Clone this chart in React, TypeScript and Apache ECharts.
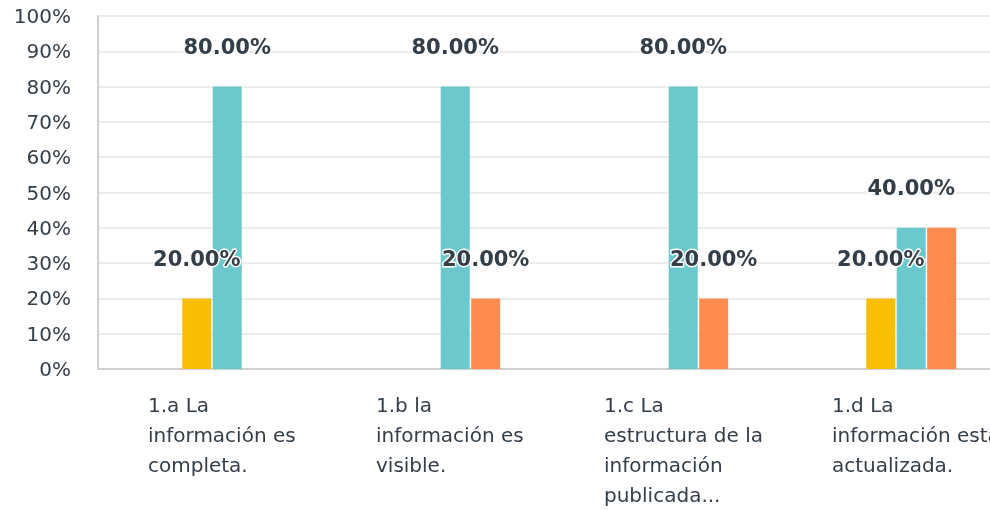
import React, { useEffect, useRef } from "react";
import * as echarts from "echarts";

const categories = [
  "1.a La\ninformación es\ncompleta.",
  "1.b la\ninformación es\nvisible.",
  "1.c La\nestructura de la\ninformación\npublicada...",
  "1.d La\ninformación está\nactualizada.",
];
const yTicks = [0, 10, 20, 30, 40, 50, 60, 70, 80, 90, 100];
const seriesNames = ["Opción 1", "Opción 2", "Opción 3", "Opción 4"];
const seriesColors = ["#A7C4E5", "#F9BE00", "#6BC8CD", "#FF8B4F"];
const s0 = [0, 0, 0, 0];
const s1 = [20, 0, 0, 20];
const s2 = [80, 80, 80, 40];
const s3 = [0, 20, 20, 40];
const seriesValues = [s0, s1, s2, s3];

const TEXT = "#333e48";
const FONT = "'DejaVu Sans', 'Noto Sans', sans-serif";

export default function App() {
  const ref = useRef<HTMLDivElement>(null);
  useEffect(() => {
    if (!ref.current) return;
    const chart = echarts.init(ref.current, undefined, { renderer: "svg" });
    chart.setOption({
      animation: false,
      textStyle: { fontFamily: FONT },
      grid: { left: 98, right: 20, top: 16, bottom: 141, containLabel: false },
      xAxis: {
        type: "category",
        data: categories,
        axisLine: { lineStyle: { color: "#d0d0d0", width: 2 } },
        axisTick: { show: false },
        axisLabel: {
          interval: 0,
          margin: 21,
          align: "center",
          verticalAlign: "top",
          formatter: (v: string) =>
            v.split("\n").map((l) => "{a|" + l + "}").join("\n"),
          rich: {
            a: {
              width: 128,
              align: "left",
              fontSize: 20,
              lineHeight: 30,
              color: TEXT,
              fontFamily: FONT,
            },
          },
        },
      },
      yAxis: {
        type: "value",
        min: yTicks[0],
        max: yTicks[yTicks.length - 1],
        interval: 10,
        axisLine: { show: true, lineStyle: { color: "#d0d0d0", width: 2 } },
        axisTick: { show: false },
        splitLine: { lineStyle: { color: "#ececec", width: 2 } },
        axisLabel: {
          formatter: "{value}%",
          fontSize: 20,
          color: TEXT,
          margin: 27,
          fontFamily: FONT,
        },
      },
      series: seriesValues.map((vals, i) => ({
        name: seriesNames[i],
        type: "bar",
        data: vals,
        barWidth: 29,
        barGap: "5%",
        itemStyle: { color: seriesColors[i] },
        labelLayout: { hideOverlap: true },
        label: {
          show: true,
          position: "top",
          distance: 29,
          offset: [3, 0],
          fontSize: 21,
          fontWeight: "bold",
          color: TEXT,
          textBorderColor: "#ffffff",
          textBorderWidth: 3,
          fontFamily: FONT,
          formatter: (p: any) => (p.value > 0 ? p.value.toFixed(2) + "%" : ""),
        },
      })),
    });
    return () => chart.dispose();
  }, []);
  return (
    <div
      style={{
        position: "fixed",
        left: 0,
        top: 0,
        width: 990,
        height: 510,
        overflow: "hidden",
      }}
    >
      <div ref={ref} style={{ width: 1030, height: 510 }} />
    </div>
  );
}
